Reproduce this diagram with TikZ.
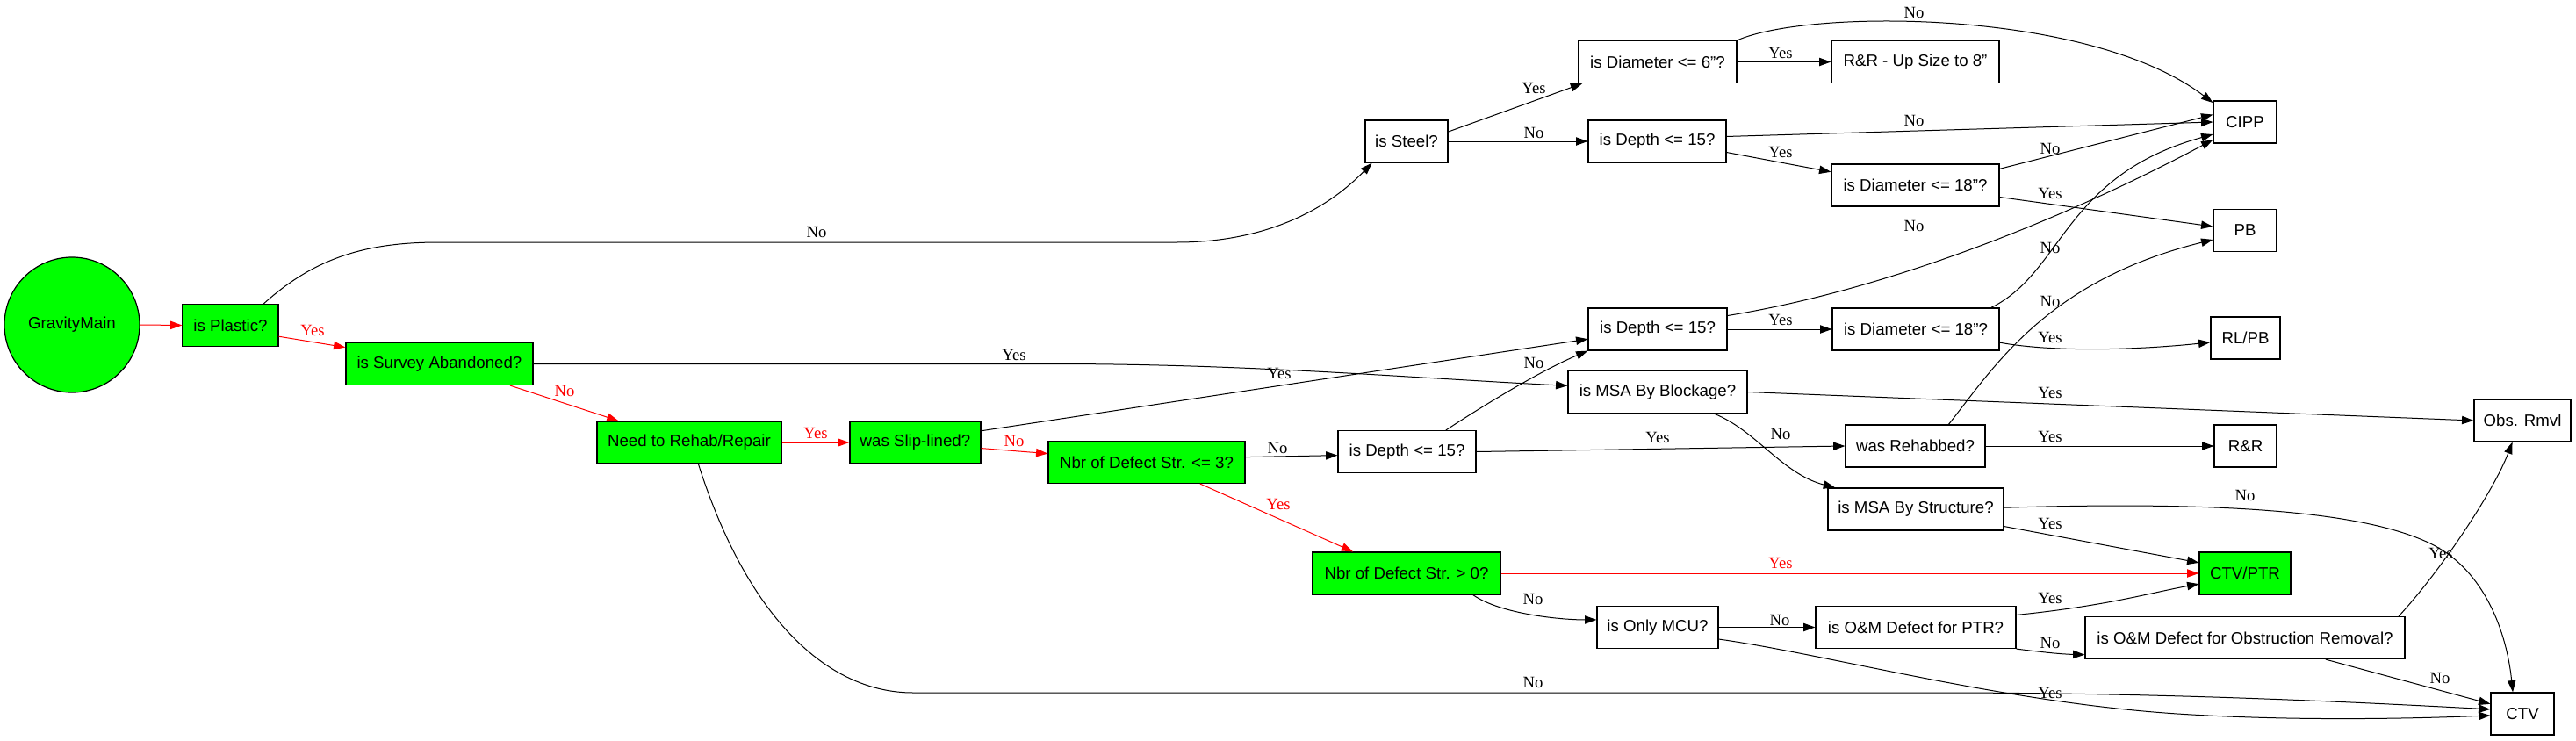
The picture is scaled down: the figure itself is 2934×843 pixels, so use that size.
\documentclass[tikz,border=0pt]{standalone}
\usepackage{fontspec}
\setmainfont{Liberation Sans}
\newfontfamily\labserif{Liberation Serif}
\usetikzlibrary{arrows.meta,shapes.geometric}
\definecolor{vgreen}{HTML}{00FF00}
\definecolor{vred}{HTML}{FF0000}
\begin{document}
\begin{tikzpicture}[x=0.75pt,y=-0.75pt,
  box/.style={draw, line width=0.9pt, rectangle, minimum height=36pt, inner sep=0pt, font=\fontsize{14}{16}\selectfont},
  gbox/.style={box, fill=vgreen},
  edge/.style={-{Triangle[length=10pt,width=7pt]}, line width=0.75pt},
  redge/.style={edge, vred},
  lab/.style={font=\labserif\fontsize{14}{16}\selectfont, inner sep=0pt},
  rlab/.style={lab, text=vred}]
\useasboundingbox (0,0) rectangle (2934,843);

% nodes
\node[circle, draw, fill=vgreen, minimum size=115.5pt, inner sep=0pt, line width=0.9pt, font=\fontsize{14}{16}\selectfont] (gm) at (82,370) {GravityMain};
\node[gbox, minimum width=81.75pt] (plastic) at (262.5,370.5) {is Plastic?};
\node[gbox, minimum width=159.75pt] (survey) at (500.5,414.5) {is Survey Abandoned?};
\node[gbox, minimum width=157.5pt] (need) at (785,504) {Need to Rehab/Repair};
\node[gbox, minimum width=111.75pt] (slip) at (1042.5,504) {was Slip-lined?};
\node[gbox, minimum width=168pt] (nbr3) at (1306,526.5) {Nbr of Defect Str. <= 3?};
\node[box, minimum width=117.75pt] (depth2) at (1602.5,514.5) {is Depth <= 15?};
\node[box, minimum width=118.5pt] (depth3) at (1888,375) {is Depth <= 15?};
\node[box, minimum width=153pt] (msab) at (1888,446.5) {is MSA By Blockage?};
\node[box, minimum width=142.5pt] (diam18b) at (2182,375) {is Diameter <= 18"?};
\node[box, minimum width=59.25pt] (rlpb) at (2557.5,385) {RL/PB};
\node[box, minimum width=119.25pt] (rehabbed) at (2181.5,508) {was Rehabbed?};
\node[box, minimum width=53.25pt] (rr) at (2557.5,508) {R\&R};
\node[box, minimum width=82.5pt] (obs) at (2873,479) {Obs. Rmvl};
\node[box, minimum width=150pt] (msas) at (2182,580) {is MSA By Structure?};
\node[gbox, minimum width=78pt] (ctvptr) at (2557,653) {CTV/PTR};
\node[gbox, minimum width=160.5pt] (nbr0) at (1602,653) {Nbr of Defect Str. > 0?};
\node[box, minimum width=103.5pt] (mcu) at (1888,714.5) {is Only MCU?};
\node[box, minimum width=171pt] (omptr) at (2182,714.5) {is O\&M Defect for PTR?};
\node[box, minimum width=273pt] (omobs) at (2557,726.5) {is O\&M Defect for Obstruction Removal?};
\node[box, minimum width=54pt] (ctv) at (2873,813) {CTV};
\node[box, minimum width=70.5pt] (steel) at (1602,161) {is Steel?};
\node[box, minimum width=135pt] (diam6) at (1888,70.5) {is Diameter <= 6"?};
\node[box, minimum width=143.25pt] (rr8) at (2181.5,70.5) {R\&R - Up Size to 8"};
\node[box, minimum width=117.75pt] (depth1) at (1887.5,161) {is Depth <= 15?};
\node[box, minimum width=143.25pt] (diam18a) at (2181.5,211) {is Diameter <= 18"?};
\node[box, minimum width=54pt] (cipp) at (2557,139) {CIPP};
\node[box, minimum width=54pt] (pb) at (2557,262.5) {PB};

% red path
\draw[redge] (gm.east) -- (plastic.west);
\draw[redge] (plastic.-13) -- (survey.170);
\draw[redge] (survey.-17) -- (need.163);
\draw[redge] (need.east) -- (slip.west);
\draw[redge] (slip.-5) -- (nbr3.175);
\draw[redge] (nbr3.-22) -- (nbr0.158);
\draw[redge] (nbr0.east) -- (ctvptr.west);

% black edges
\draw[edge] (plastic.33) .. controls (360,292) and (420,276) .. (500,276) -- (1340,276) .. controls (1440,276) and (1510,240) .. (steel.-148);
\draw[edge] (survey.east) -- (1200,414.5) .. controls (1420,414.5) and (1600,430) .. (msab.176);
\draw[edge] (need.-67) .. controls (850,700) and (940,789) .. (1040,789) -- (2200,789) .. controls (2450,789) and (2650,798) .. (ctv.172);
\draw[edge] (slip.10) -- (depth3.-172);
\draw[edge] (nbr3.3) -- (depth2.-177);
\draw[edge] (nbr0.-18) .. controls (1710,700) and (1780,706) .. (mcu.173);
\draw[edge] (mcu.east) -- (omptr.west);
\draw[edge] (mcu.-11) .. controls (2080,745) and (2280,800) .. (2480,813) .. controls (2620,822) and (2760,818) .. (ctv.-177);
\draw[edge] (omptr.7) .. controls (2400,690) and (2450,675) .. (ctvptr.-167);
\draw[edge] (omptr.south east) .. controls (2320,742) and (2345,745) .. (omobs.-174);
\draw[edge] (omobs.8) .. controls (2780,650) and (2840,560) .. (obs.-115);
\draw[edge] (omobs.-15) -- (ctv.163);
\draw[edge] (msab.east) -- (obs.west);
\draw[edge] (msab.-21) .. controls (2000,490) and (2030,540) .. (msas.165);
\draw[edge] (msas.-11) -- (ctvptr.167);
\draw[edge] (msas.1) .. controls (2550,570) and (2700,585) .. (2770,620) .. controls (2830,650) and (2855,720) .. (ctv.114);
\draw[edge] (depth2.east) -- (rehabbed.west);
\draw[edge] (depth2.29) .. controls (1700,455) and (1760,420) .. (depth3.south west);
\draw[edge] (rehabbed.east) -- (rr.west);
\draw[edge] (rehabbed.33) .. controls (2270,420) and (2330,320) .. (pb.-164);
\draw[edge] (depth3.east) -- (diam18b.west);
\draw[edge] (depth3.11) .. controls (2150,330) and (2350,250) .. (cipp.-151);
\draw[edge] (diam18b.-9) .. controls (2330,400) and (2420,400) .. (rlpb.-173);
\draw[edge] (diam18b.16) .. controls (2350,310) and (2350,200) .. (cipp.-159);
\draw[edge] (steel.13) -- (diam6.-164);
\draw[edge] (steel.east) -- (depth1.west);
\draw[edge] (diam6.east) -- (rr8.west);
\draw[edge] (diam6.north east) .. controls (2060,10) and (2380,10) .. (cipp.149);
\draw[edge] (depth1.4) -- (cipp.west);
\draw[edge] (depth1.-9) -- (diam18a.171);
\draw[edge] (diam18a.11) -- (cipp.167);
\draw[edge] (diam18a.-8) -- (pb.173);

% labels
\node[rlab] (l1) at (356,376) {Yes};
\node[rlab] (l2) at (643,445) {No};
\node[rlab] (l3) at (929,493) {Yes};
\node[rlab] (l4) at (1155,502) {No};
\node[rlab] (l5) at (1456,574) {Yes};
\node[rlab] (l6) at (2028,641) {Yes};
\node[lab] (l7) at (930,264) {No};
\node[lab] (l8) at (1747,100) {Yes};
\node[lab] (l9) at (1747,151) {No};
\node[lab] (l10) at (2028,60) {Yes};
\node[lab] (l11) at (2180,14) {No};
\node[lab] (l12) at (2180,137) {No};
\node[lab] (l13) at (2028,173) {Yes};
\node[lab] (l14) at (2335,169) {No};
\node[lab] (l15) at (2335,220) {Yes};
\node[lab] (l16) at (2180,257) {No};
\node[lab] (l17) at (2335,282) {No};
\node[lab] (l18) at (2335,343) {No};
\node[lab] (l19) at (2335,384) {Yes};
\node[lab] (l20) at (2028,364) {Yes};
\node[lab] (l21) at (1457,425) {Yes};
\node[lab] (l22) at (1155,404) {Yes};
\node[lab] (l23) at (1747,413) {No};
\node[lab] (l24) at (2335,447) {Yes};
\node[lab] (l25) at (2028,494) {No};
\node[lab] (l26) at (1888,498) {Yes};
\node[lab] (l27) at (2335,497) {Yes};
\node[lab] (l28) at (1455,510) {No};
\node[lab] (l29) at (2557,564) {No};
\node[lab] (l30) at (2335,596) {Yes};
\node[lab] (l31) at (2780,630) {Yes};
\node[lab] (l32) at (1746,682) {No};
\node[lab] (l33) at (2335,681) {Yes};
\node[lab] (l34) at (2027,706) {No};
\node[lab] (l35) at (2335,732) {No};
\node[lab] (l36) at (2779,772) {No};
\node[lab] (l37) at (1746,777) {No};
\node[lab] (l38) at (2335,789) {Yes};
\end{tikzpicture}
\end{document}
